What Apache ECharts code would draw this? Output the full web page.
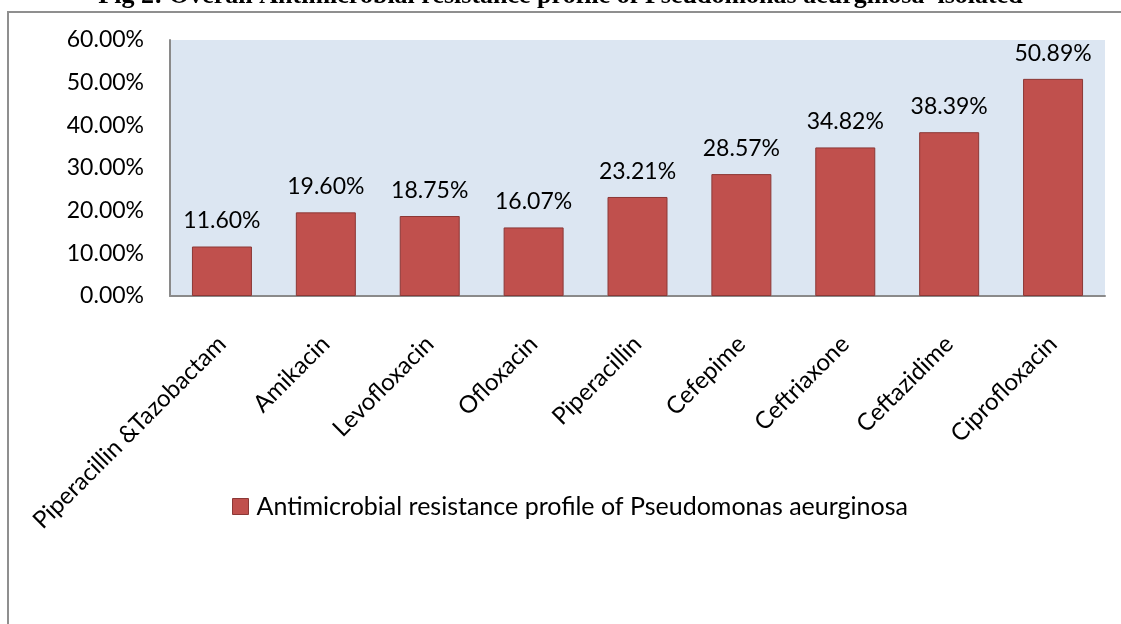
<!DOCTYPE html>
<html>
<head>
<meta charset="utf-8">
<script src="https://cdn.jsdelivr.net/npm/echarts@6/dist/echarts.min.js"></script>
<style>
  html, body { margin: 0; padding: 0; background: #fff; }
  #chart { width: 1121px; height: 624px; }
</style>
</head>
<body>
<div id="chart"></div>
<script>
// antibiotics on the x axis
const drugs = ['Piperacillin &Tazobactam', 'Amikacin', 'Levofloxacin', 'Ofloxacin',
    'Piperacillin', 'Cefepime', 'Ceftriaxone', 'Ceftazidime', 'Ciprofloxacin'];
// resistance in percent
const resistance = [11.60, 19.60, 18.75, 16.07, 23.21, 28.57, 34.82, 38.39, 50.89];
const seriesName = 'Antimicrobial resistance profile of Pseudomonas aeurginosa';
const titleText = 'Fig 2: Overall Antimicrobial resistance profile of Pseudomonas aeurginosa  isolated';

const font = 'Lato, "Open Sans", sans-serif';
const chart = echarts.init(document.getElementById('chart'));

const option = {
    animation: false,
    graphic: [
        {
            type: 'rect',
            shape: { x: 8, y: 12, width: 1200, height: 700 },
            style: { fill: 'none', stroke: '#8f8f8f', lineWidth: 2 }
        },
        {
            type: 'text',
            left: 'center',
            top: -17,
            style: {
                text: titleText,
                font: 'bold 26px "Liberation Serif", serif',
                fill: '#000'
            }
        }
    ],
    grid: {
        left: 170, right: 16, top: 40, bottom: 328,
        show: true,
        backgroundColor: '#dce6f2',
        borderWidth: 0
    },
    legend: {
        data: [seriesName],
        icon: 'rect',
        left: 227,
        top: 489,
        itemWidth: 16,
        itemHeight: 16,
        itemGap: 6,
        textStyle: { fontFamily: font, fontSize: 25, color: '#000', padding: [0, 0, 0, 3] },
        itemStyle: { borderColor: '#8c3836', borderWidth: 1 }
    },
    xAxis: {
        type: 'category',
        data: drugs,
        axisLine: { lineStyle: { color: '#8a8a8a', width: 2 } },
        axisTick: { show: false },
        axisLabel: {
            rotate: 45,
            interval: 0,
            margin: 44,
            verticalAlign: 'middle',
            fontFamily: font,
            fontSize: 24,
            color: '#000'
        }
    },
    yAxis: {
        type: 'value',
        min: 0,
        max: 60,
        interval: 10,
        splitLine: { show: false },
        axisLine: { show: true, lineStyle: { color: '#8a8a8a', width: 2 } },
        axisTick: { show: false },
        axisLabel: {
            margin: 26,
            fontFamily: font,
            fontSize: 23,
            color: '#000',
            formatter: v => v.toFixed(2) + '%'
        }
    },
    series: [
        {
            name: seriesName,
            type: 'bar',
            data: resistance,
            barWidth: 60,
            itemStyle: { color: '#c0504d', borderColor: '#8c3836', borderWidth: 1 },
            label: {
                show: true,
                position: 'top',
                distance: 14,
                fontFamily: font,
                fontSize: 23,
                color: '#000',
                formatter: p => p.value.toFixed(2) + '%'
            }
        }
    ]
};

chart.setOption(option);
</script>
</body>
</html>
